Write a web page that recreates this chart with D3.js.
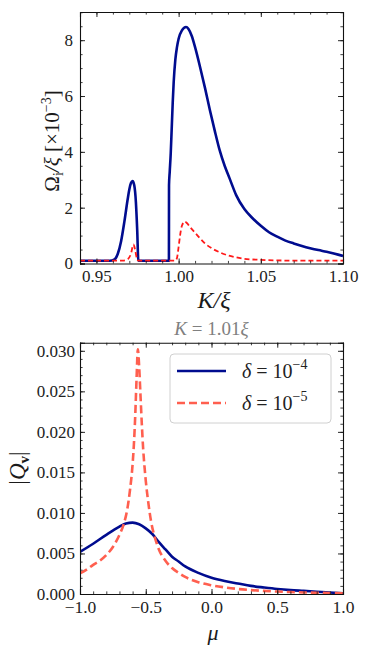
<!DOCTYPE html>
<html><head><meta charset="utf-8">
<script src="https://cdn.jsdelivr.net/npm/d3@7"></script>
<style>
html,body{margin:0;padding:0;background:#fff;}
svg{display:block;}
text{font-family:"Liberation Serif","DejaVu Serif",serif;fill:#1a1a1a;}
</style></head>
<body>
<svg id="c" width="374" height="654"></svg>
<script>
// ---------- Top panel data ----------
const topBlueK = [0.940,0.958,0.961,0.963,0.965,0.967,0.969,0.970,0.971,0.972,0.973,0.974,0.9748,0.9755,0.9941,0.99415,0.9946,0.9952,0.9958,0.9964,0.997,0.998,0.999,1.000,1.002,1.0045,1.006,1.008,1.010,1.013,1.016,1.019,1.022,1.025,1.028,1.031,1.035,1.040,1.045,1.050,1.055,1.060,1.065,1.070,1.075,1.080,1.085,1.090,1.095,1.100];
const topBlueV = [0.1,0.1,0.15,0.35,0.8,1.5,2.3,2.65,2.88,2.95,2.8,2.2,1.2,0.1,0.1,2.8,3.3,3.95,4.85,5.75,6.5,7.3,7.75,8.05,8.35,8.47,8.4,8.15,7.75,7.05,6.3,5.5,4.75,4.05,3.5,3.05,2.45,1.95,1.62,1.35,1.12,0.96,0.82,0.72,0.63,0.55,0.48,0.42,0.35,0.27];
const topRedK = [0.940,0.966,0.969,0.971,0.9725,0.9735,0.9745,0.9755,0.998,0.999,1.000,1.001,1.002,1.0037,1.005,1.007,1.010,1.013,1.016,1.020,1.025,1.030,1.035,1.040,1.050,1.060,1.080,1.100];
const topRedV = [0.1,0.1,0.15,0.35,0.68,0.5,0.2,0.1,0.1,0.2,0.6,1.05,1.35,1.5,1.45,1.3,1.1,0.9,0.72,0.55,0.40,0.29,0.22,0.17,0.13,0.11,0.1,0.1];
const topXTicks = [0.95,1.00,1.05,1.10];
const topYTicks = [0,2,4,6,8];

// ---------- Bottom panel data ----------
const muBlue = [-1,-0.9,-0.8,-0.7,-0.65,-0.6,-0.55,-0.5,-0.45,-0.4,-0.35,-0.3,-0.25,-0.2,-0.1,0,0.1,0.2,0.3,0.4,0.5,0.6,0.7,0.8,0.9,1.0];
const qBlue = [0.0052,0.0062,0.0073,0.0083,0.0087,0.0088,0.0086,0.0081,0.0074,0.0064,0.0055,0.0046,0.0040,0.0034,0.0026,0.0020,0.0016,0.0013,0.0010,0.0008,0.00062,0.00048,0.00038,0.00028,0.00018,0.0001];
const muRed = [-1,-0.95,-0.9,-0.85,-0.8,-0.75,-0.7,-0.67,-0.64,-0.62,-0.60,-0.59,-0.58,-0.57,-0.56,-0.55,-0.54,-0.53,-0.52,-0.51,-0.50,-0.48,-0.46,-0.44,-0.42,-0.40,-0.35,-0.30,-0.25,-0.2,-0.1,0,0.1,0.2,0.3,0.4,0.5,0.6,0.7,0.8,0.9,1.0];
const qRed = [0.00255,0.0030,0.0036,0.0041,0.0048,0.0058,0.0073,0.0085,0.0105,0.0128,0.0160,0.0185,0.0220,0.0265,0.0302,0.0280,0.0245,0.0210,0.0180,0.0158,0.0140,0.0112,0.0090,0.0075,0.0064,0.0055,0.0041,0.0032,0.0026,0.0021,0.00145,0.00108,0.00082,0.00062,0.00048,0.00038,0.00030,0.00024,0.00019,0.00015,0.00012,0.0001];
const botXTicks = [-1,-0.5,0,0.5,1];
const botYTicks = [0,0.005,0.010,0.015,0.020,0.025,0.030];
const legendLabels = ["\u22124","\u22125"];

const SERIF = '"Liberation Serif","DejaVu Serif",serif';
const svg = d3.select("#c");
const NAVY = "#000c8f", RED = "#ff1a1a", TOMATO = "#ff5f4f";

function panel(o){
  const g = svg.append("g");
  const x = d3.scaleLinear().domain(o.xd).range([o.l,o.r]);
  const y = d3.scaleLinear().domain(o.yd).range([o.b,o.t]);
  const cid = "clip"+o.id;
  g.append("clipPath").attr("id",cid).append("rect").attr("x",o.l).attr("y",o.t).attr("width",o.r-o.l).attr("height",o.b-o.t);
  const minorX = d3.range(Math.round(o.xd[0]/o.mx), Math.round(o.xd[1]/o.mx)+1).map(i=>i*o.mx);
  const minorY = d3.range(0, Math.round(o.yd[1]/o.my)+1).map(i=>i*o.my);
  o.series.forEach(s=>{
    const data = s.xs.map((v,i)=>[v,s.ys[i]]);
    g.append("path").attr("clip-path",`url(#${cid})`).datum(data)
      .attr("d", d3.line().x(d=>x(d[0])).y(d=>y(d[1])).curve(d3.curveMonotoneX))
      .attr("fill","none").attr("stroke",s.c).attr("stroke-width",s.w)
      .attr("stroke-dasharray",s.dash||null).attr("stroke-linejoin","round");
  });
  [[d3.axisBottom(x),`translate(0,${o.b})`,minorX],[d3.axisTop(x),`translate(0,${o.t})`,minorX],
   [d3.axisLeft(y),`translate(${o.l},0)`,minorY],[d3.axisRight(y),`translate(${o.r},0)`,minorY]].forEach(([ax,tr,minor])=>{
    const mg = g.append("g").attr("transform",tr).call(ax.tickValues(minor).tickSize(-2.6).tickFormat(""));
    mg.select(".domain").remove();
    mg.selectAll("line").attr("stroke","#111").attr("stroke-width",0.8);
  });
  [[d3.axisBottom(x),`translate(0,${o.b})`,o.xt,o.xf],[d3.axisTop(x),`translate(0,${o.t})`,o.xt,null],
   [d3.axisLeft(y),`translate(${o.l},0)`,o.yt,o.yf],[d3.axisRight(y),`translate(${o.r},0)`,o.yt,null]].forEach(([ax,tr,tv,fmt],i)=>{
    const ag = g.append("g").attr("transform",tr).call(ax.tickValues(tv).tickSize(-5).tickPadding(i<2?o.px:o.py).tickFormat(fmt? fmt : ""));
    ag.select(".domain").attr("stroke","#111").attr("stroke-width",1.1);
    ag.selectAll("line").attr("stroke","#111").attr("stroke-width",0.9);
    ag.selectAll("text").style("font-family",SERIF).attr("font-size",i<2?o.fs:o.fsy).style("fill","#222");
  });
  return {x,y,g};
}

panel({id:1,l:80,r:343,t:12,b:263.5,xd:[0.94,1.10],yd:[0,9.01],mx:0.01,my:0.5,px:6,py:7,
  xt:topXTicks,yt:topYTicks,xf:d3.format(".2f"),yf:d3.format("d"),fs:17,fsy:17,
  series:[{xs:topBlueK,ys:topBlueV,c:NAVY,w:2.6},{xs:topRedK,ys:topRedV,c:RED,w:1.8,dash:"5,3"}]});

const fmtMinus = d => d3.format(".1f")(d).replace("-","\u2212");
panel({id:2,l:80,r:343,t:342.7,b:594,xd:[-1,1],yd:[0,0.031],mx:0.1,my:0.001,px:7,py:5,
  xt:botXTicks,yt:botYTicks,xf:fmtMinus,yf:d3.format(".3f"),fs:17.5,fsy:17,
  series:[{xs:muBlue,ys:qBlue,c:NAVY,w:2.6},{xs:muRed,ys:qRed,c:TOMATO,w:2.6,dash:"8,4"}]});

// top y label
const yl1 = svg.append("text").attr("transform","translate(59,141) rotate(-90)").attr("text-anchor","middle").attr("font-size",21).style("font-family",SERIF);
yl1.append("tspan").text("Ω");
yl1.append("tspan").attr("font-size",14).attr("dy",4).text("i");
yl1.append("tspan").attr("dy",-4).attr("font-style","italic").text("/ξ ");
yl1.append("tspan").text("[×10");
yl1.append("tspan").attr("font-size",14).attr("dy",-8).text("\u22123");
yl1.append("tspan").attr("dy",8).text("]");

svg.append("text").attr("x",214).attr("y",308).attr("text-anchor","middle").attr("font-size",24).attr("font-style","italic").style("font-family",SERIF).text("K/ξ");

const tt = svg.append("text").attr("x",211.5).attr("y",335).attr("text-anchor","middle").attr("font-size",19).style("font-family",SERIF).style("fill","#808080");
tt.append("tspan").attr("font-style","italic").text("K");
tt.append("tspan").text(" = 1.01");
tt.append("tspan").attr("font-style","italic").text("ξ");

const yl2 = svg.append("text").attr("transform","translate(25,468) rotate(-90)").attr("text-anchor","middle").attr("font-size",23).style("font-family",SERIF);
yl2.append("tspan").text("|");
yl2.append("tspan").attr("font-style","italic").text("Q");
yl2.append("tspan").attr("font-size",15).attr("font-weight","bold").attr("dy",4).text("v");
yl2.append("tspan").attr("dy",-4).text("|");

svg.append("text").attr("x",213).attr("y",640).attr("text-anchor","middle").attr("font-size",22).attr("font-style","italic").style("font-family",SERIF).text("μ");

// legend
const lg = svg.append("g");
lg.append("rect").attr("x",170).attr("y",354).attr("width",161).attr("height",69).attr("rx",4)
  .attr("fill","#fff").attr("fill-opacity",0.85).attr("stroke","#d0d0d0").attr("stroke-width",1);
const legItems = [{c:NAVY,dash:null,yy:371},{c:TOMATO,dash:"8,4",yy:403}];
legItems.forEach((it,i)=>{
  lg.append("line").attr("x1",177).attr("x2",226).attr("y1",it.yy).attr("y2",it.yy)
    .attr("stroke",it.c).attr("stroke-width",2.6).attr("stroke-dasharray",it.dash);
  const t = lg.append("text").attr("x",242).attr("y",it.yy+7).attr("font-size",20).style("font-family",SERIF).style("fill","#222");
  t.append("tspan").attr("font-style","italic").text("δ");
  t.append("tspan").text(" = 10");
  t.append("tspan").attr("font-size",14).attr("dy",-9).text(legendLabels[i]);
});
</script>
</body></html>
